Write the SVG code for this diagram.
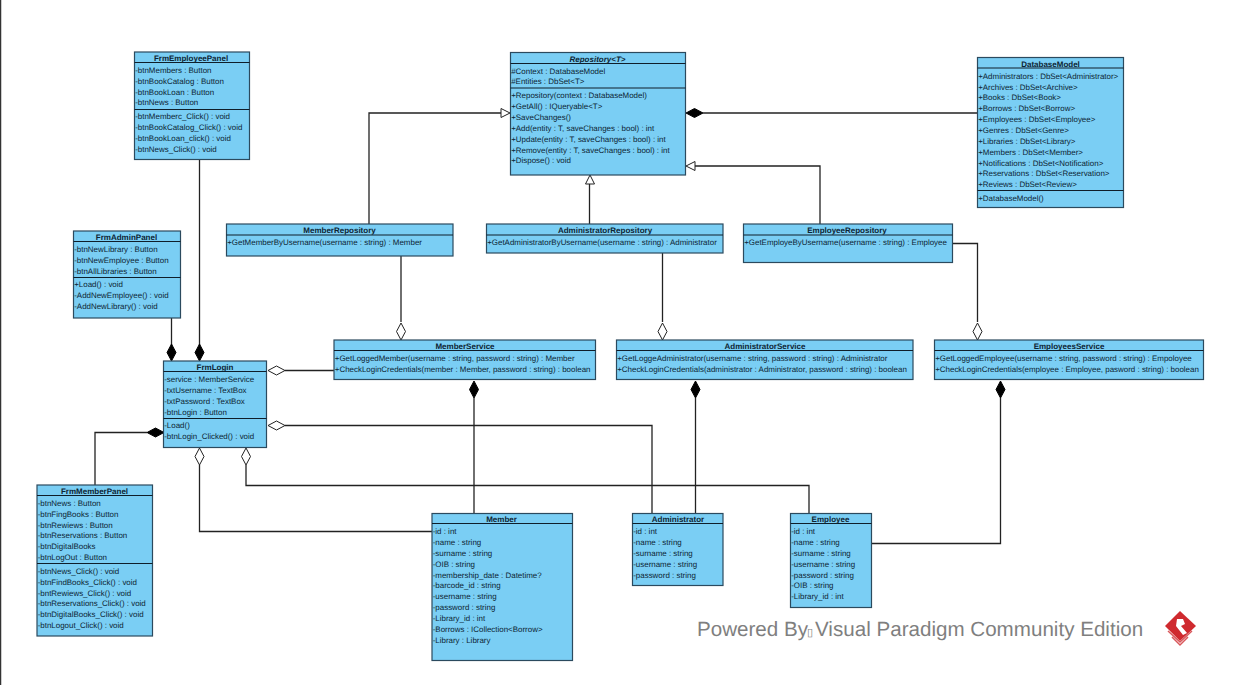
<svg xmlns="http://www.w3.org/2000/svg" width="1238" height="685" viewBox="0 0 1238 685">
<style>
.b{fill:#7acef4;stroke:#2b4a5e;stroke-width:1.2}
.d{stroke:#0f1e2a;stroke-width:1.1;fill:none}
.c{stroke:#222;stroke-width:1.3;fill:none}
text{font-family:"Liberation Sans",Arial,sans-serif;font-size:7.95px;fill:#0c2433;text-rendering:geometricPrecision}
.t{font-weight:bold;text-anchor:middle;font-size:8px}
.i{font-style:italic}
.o{fill:#fff;stroke:#222;stroke-width:1}
.f{fill:#000;stroke:#000;stroke-width:1}
.w{font-size:20.600px;fill:#7f7f7f}
</style>
<defs>
<polygon id="dia" points="0,0 8.500,-4.500 17,0 8.500,4.500"/>
<polygon id="tri" points="0,0 -9,-4.500 -9,4.500"/>
</defs>
<rect width="1238" height="685" fill="#fff"/>
<line x1="0.500" y1="0" x2="0.500" y2="685" stroke="#333" stroke-width="1.500"/>
<g id="connectors">
<path class="c" d="M199.500 160V345"/>
<path class="c" d="M171.500 318V345"/>
<path class="c" d="M369 224V113H501"/>
<path class="c" d="M589.500 224V183"/>
<path class="c" d="M820 224V166H695"/>
<path class="c" d="M703 113H978"/>
<path class="c" d="M401 256V322"/>
<path class="c" d="M662.500 252V322"/>
<path class="c" d="M953 243.500H977.500V322"/>
<path class="c" d="M285 370.500H334"/>
<path class="c" d="M285 425.500H652V514"/>
<path class="c" d="M95 485V432.500H147"/>
<path class="c" d="M199.500 465V531.500H432"/>
<path class="c" d="M246 465V485.500H809V514"/>
<path class="c" d="M474 398V514"/>
<path class="c" d="M695.500 398V514"/>
<path class="c" d="M1000.500 398V543.500H872"/>
<use href="#tri" transform="translate(510,113)" class="o"/>
<use href="#tri" transform="translate(590,175) rotate(-90)" class="o"/>
<use href="#tri" transform="translate(686,166) rotate(180)" class="o"/>
<use href="#dia" transform="translate(686,113)" class="f"/>
<use href="#dia" transform="translate(171.500,344) rotate(90)" class="f"/>
<use href="#dia" transform="translate(199.500,344) rotate(90)" class="f"/>
<use href="#dia" transform="translate(147,432.500)" class="f"/>
<use href="#dia" transform="translate(268,370.500)" class="o"/>
<use href="#dia" transform="translate(268,425.500)" class="o"/>
<use href="#dia" transform="translate(199.500,448) rotate(90)" class="o"/>
<use href="#dia" transform="translate(246,448) rotate(90)" class="o"/>
<use href="#dia" transform="translate(401,323) rotate(90)" class="o"/>
<use href="#dia" transform="translate(662.500,323) rotate(90)" class="o"/>
<use href="#dia" transform="translate(977.500,323) rotate(90)" class="o"/>
<use href="#dia" transform="translate(474,381) rotate(90)" class="f"/>
<use href="#dia" transform="translate(695.500,381) rotate(90)" class="f"/>
<use href="#dia" transform="translate(1000.500,381) rotate(90)" class="f"/>
</g>
<g id="FrmEmployeePanel">
<rect class="b" x="134.500" y="52" width="115" height="107.500"/>
<path class="d" d="M134.500 62.500H249.500M134.500 109.500H249.500"/>
<text class="t" x="191" y="61">FrmEmployeePanel</text>
<text x="135.200" y="73">-btnMembers : Button</text>
<text x="135.200" y="84">-btnBookCatalog : Button</text>
<text x="135.200" y="95">-btnBookLoan : Button</text>
<text x="135.200" y="105">-btnNews : Button</text>
<text x="135.200" y="119">-btnMemberc_Click() : void</text>
<text x="135.200" y="130">-btnBookCatalog_Click() : void</text>
<text x="135.200" y="141">-btnBookLoan_click() : void</text>
<text x="135.200" y="152">-btnNews_Click() : void</text>
</g>
<g id="FrmAdminPanel">
<rect class="b" x="73.500" y="231" width="107" height="87"/>
<path class="d" d="M73.500 241.500H180.500M73.500 277.500H180.500"/>
<text class="t" x="126.500" y="239.500">FrmAdminPanel</text>
<text x="74.200" y="252">-btnNewLibrary : Button</text>
<text x="74.200" y="263">-btnNewEmployee : Button</text>
<text x="74.200" y="274">-btnAllLibraries : Button</text>
<text x="74.200" y="287">+Load() : void</text>
<text x="74.200" y="298">-AddNewEmployee() : void</text>
<text x="74.200" y="309">-AddNewLibrary() : void</text>
</g>
<g id="FrmLogin">
<rect class="b" x="163.500" y="361" width="103" height="86.500"/>
<path class="d" d="M163.500 371.500H266.500M163.500 418.500H266.500"/>
<text class="t" x="215" y="370">FrmLogin</text>
<text x="164.200" y="382">-service : MemberService</text>
<text x="164.200" y="393">-txtUsername : TextBox</text>
<text x="164.200" y="404">-txtPassword : TextBox</text>
<text x="164.200" y="415">-btnLogin : Button</text>
<text x="164.200" y="428">-Load()</text>
<text x="164.200" y="439">-btnLogin_Clicked() : void</text>
</g>
<g id="FrmMemberPanel">
<rect class="b" x="37" y="485" width="115.500" height="151"/>
<path class="d" d="M37 495.500H152.500M37 563.500H152.500"/>
<text class="t" x="94.500" y="494">FrmMemberPanel</text>
<text x="37.700" y="506">-btnNews : Button</text>
<text x="37.700" y="517">-btnFingBooks : Button</text>
<text x="37.700" y="528">-btnRewiews : Button</text>
<text x="37.700" y="538">-btnReservations : Button</text>
<text x="37.700" y="549">-btnDigitalBooks</text>
<text x="37.700" y="560">-btnLogOut : Button</text>
<text x="37.700" y="574">-btnNews_Click() : void</text>
<text x="37.700" y="585">-btnFindBooks_Click() : void</text>
<text x="37.700" y="596">-bntRewiews_Click() : void</text>
<text x="37.700" y="606">-btnReservations_Click() : void</text>
<text x="37.700" y="617">-btnDigitalBooks_Click() : void</text>
<text x="37.700" y="628">-btnLogout_Click() : void</text>
</g>
<g id="Repository">
<rect class="b" x="510.500" y="52.500" width="175" height="122.500"/>
<path class="d" d="M510.500 63.500H685.500M510.500 88H685.500"/>
<text class="t i" x="597.500" y="61.500">Repository&lt;T&gt;</text>
<text x="511.200" y="74">#Context : DatabaseModel</text>
<text x="511.200" y="84">#Entities : DbSet&lt;T&gt;</text>
<text x="511.200" y="98">+Repository(context : DatabaseModel)</text>
<text x="511.200" y="109">+GetAll() : IQueryable&lt;T&gt;</text>
<text x="511.200" y="120">+SaveChanges()</text>
<text x="511.200" y="131">+Add(entity : T, saveChanges : bool) : int</text>
<text x="511.200" y="142">+Update(entity : T, saveChanges : bool) : int</text>
<text x="511.200" y="153">+Remove(entity : T, saveChanges : bool) : int</text>
<text x="511.200" y="163">+Dispose() : void</text>
</g>
<g id="DatabaseModel">
<rect class="b" x="977.500" y="57.500" width="146" height="150"/>
<path class="d" d="M977.500 68H1123.500M977.500 190.500H1123.500"/>
<text class="t" x="1050.500" y="66.500">DatabaseModel</text>
<text x="978.200" y="79">+Administrators : DbSet&lt;Administrator&gt;</text>
<text x="978.200" y="90">+Archives : DbSet&lt;Archive&gt;</text>
<text x="978.200" y="100">+Books : DbSet&lt;Book&gt;</text>
<text x="978.200" y="111">+Borrows : DbSet&lt;Borrow&gt;</text>
<text x="978.200" y="122">+Employees : DbSet&lt;Employee&gt;</text>
<text x="978.200" y="133">+Genres : DbSet&lt;Genre&gt;</text>
<text x="978.200" y="144">+Libraries : DbSet&lt;Library&gt;</text>
<text x="978.200" y="155">+Members : DbSet&lt;Member&gt;</text>
<text x="978.200" y="166">+Notifications : DbSet&lt;Notification&gt;</text>
<text x="978.200" y="176">+Reservations : DbSet&lt;Reservation&gt;</text>
<text x="978.200" y="187">+Reviews : DbSet&lt;Review&gt;</text>
<text x="978.200" y="201">+DatabaseModel()</text>
</g>
<g id="MemberRepository">
<rect class="b" x="226.500" y="224" width="226.500" height="32"/>
<path class="d" d="M226.500 235H453"/>
<text class="t" x="339.500" y="233">MemberRepository</text>
<text x="227.200" y="245">+GetMemberByUsername(username : string) : Member</text>
</g>
<g id="AdministratorRepository">
<rect class="b" x="486.500" y="224" width="236.500" height="29"/>
<path class="d" d="M486.500 235H723"/>
<text class="t" x="605" y="233">AdministratorRepository</text>
<text x="487.200" y="245">+GetAdministratorByUsername(username : string) : Administrator</text>
</g>
<g id="EmployeeRepository">
<rect class="b" x="743.500" y="224" width="209" height="38.500"/>
<path class="d" d="M743.500 235H952.500"/>
<text class="t" x="847" y="233">EmployeeRepository</text>
<text x="744.200" y="245">+GetEmployeByUsername(username : string) : Employee</text>
</g>
<g id="MemberService">
<rect class="b" x="334" y="340" width="261.500" height="39.500"/>
<path class="d" d="M334 350.500H595.500"/>
<text class="t" x="465" y="349">MemberService</text>
<text x="334.800" y="361">+GetLoggedMember(username : string, password : string) : Member</text>
<text x="334.800" y="372">+CheckLoginCredentials(member : Member, password : string) : boolean</text>
</g>
<g id="AdministratorService">
<rect class="b" x="616.500" y="340" width="296.500" height="39.500"/>
<path class="d" d="M616.500 350.500H913"/>
<text class="t" x="765" y="349">AdministratorService</text>
<text x="617.200" y="361">+GetLoggeAdministrator(username : string, password : string) : Administrator</text>
<text x="617.200" y="372">+CheckLoginCredentials(administrator : Administrator, password : string) : boolean</text>
</g>
<g id="EmployeesService">
<rect class="b" x="934.500" y="340" width="269" height="39.500"/>
<path class="d" d="M934.500 350.500H1203.500"/>
<text class="t" x="1069" y="349">EmployeesService</text>
<text x="935.200" y="361">+GetLoggedEmployee(username : string, password : string) : Empoloyee</text>
<text x="935.200" y="372">+CheckLoginCredentials(employee : Employee, pasword : string) : boolean</text>
</g>
<g id="Member">
<rect class="b" x="432" y="513.500" width="140.500" height="147"/>
<path class="d" d="M432 523.500H572.500"/>
<text class="t" x="501.500" y="522">Member</text>
<text x="432.700" y="534">-id : int</text>
<text x="432.700" y="545">-name : string</text>
<text x="432.700" y="556">-surname : string</text>
<text x="432.700" y="567">-OIB : string</text>
<text x="432.700" y="578">-membership_date : Datetime?</text>
<text x="432.700" y="588">-barcode_id : string</text>
<text x="432.700" y="599">-username : string</text>
<text x="432.700" y="610">-password : string</text>
<text x="432.700" y="621">-Library_id : int</text>
<text x="432.700" y="632">-Borrows : ICollection&lt;Borrow&gt;</text>
<text x="432.700" y="643">-Library : Library</text>
</g>
<g id="Administrator">
<rect class="b" x="632.500" y="513.500" width="90.500" height="72"/>
<path class="d" d="M632.500 523.500H723"/>
<text class="t" x="678" y="522">Administrator</text>
<text x="633.200" y="534">-id : int</text>
<text x="633.200" y="545">-name : string</text>
<text x="633.200" y="556">-surname : string</text>
<text x="633.200" y="567">-username : string</text>
<text x="633.200" y="578">-password : string</text>
</g>
<g id="Employee">
<rect class="b" x="790.500" y="513.500" width="81" height="94"/>
<path class="d" d="M790.500 523.500H871.500"/>
<text class="t" x="830.500" y="522">Employee</text>
<text x="791.200" y="534">-id : int</text>
<text x="791.200" y="545">-name : string</text>
<text x="791.200" y="556">-surname : string</text>
<text x="791.200" y="567">-username : string</text>
<text x="791.200" y="578">-password : string</text>
<text x="791.200" y="588">-OIB : string</text>
<text x="791.200" y="599">-Library_id : int</text>
</g>
<g id="watermark">
<text class="w" x="697" y="635.500">Powered By<tspan x="807" style="font-size:11px">▯</tspan><tspan x="815">Visual Paradigm Community Edition</tspan></text>
<polygon points="1180,611 1196,626 1180,641 1165,626" fill="#cf2a2f"/>
<path d="M1168 631L1180 642L1192 631M1172 637L1180 645L1188 637" fill="none" stroke="#d9575b" stroke-width="1.500"/>
<path d="M1177 619L1183 619L1185 624L1181 626L1187 633L1183 635L1176 626Z" fill="#fff"/>
</g>
</svg>
